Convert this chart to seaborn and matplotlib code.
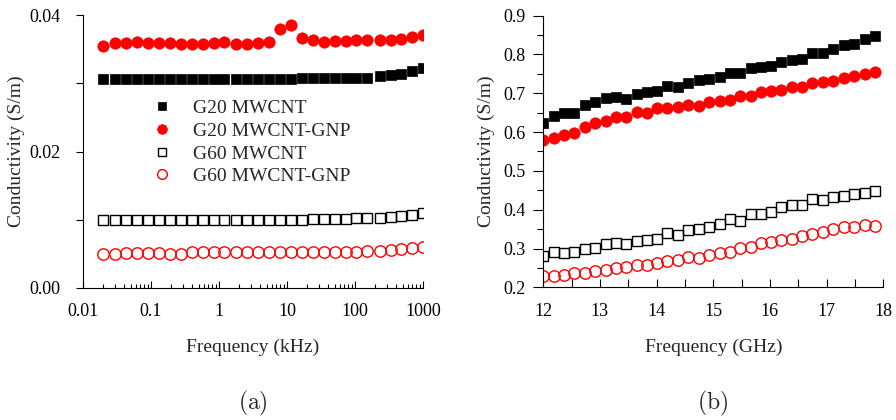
import numpy as np
import pandas as pd
import matplotlib
matplotlib.use("Agg")
import matplotlib.pyplot as plt
from matplotlib.ticker import FixedLocator, LogLocator, NullFormatter, MultipleLocator, FixedFormatter
from matplotlib.lines import Line2D
import seaborn as sns

# ---------------- data ----------------
# (a) low-frequency conductivity, frequency in kHz
freq_khz = [0.02, 0.03, 0.043, 0.062, 0.089, 0.13, 0.19, 0.28, 0.40, 0.59,
            0.84, 1.2, 1.77, 2.6, 3.7, 5.5, 7.8, 11.3, 16.8, 24,
            35, 50, 74, 104, 149, 237, 340, 480, 680, 1000]
g20_mwcnt_a = [0.03055, 0.03055, 0.03055, 0.03055, 0.03055, 0.03055, 0.03055, 0.03055, 0.03055, 0.03055,
               0.0306, 0.0306, 0.0306, 0.0306, 0.0306, 0.0306, 0.0306, 0.0306, 0.0307, 0.0307,
               0.0307, 0.0307, 0.0308, 0.0308, 0.0308, 0.0311, 0.0312, 0.0314, 0.0318, 0.0323]
g20_gnp_a = [0.0355, 0.03585, 0.03585, 0.0360, 0.0359, 0.03585, 0.0359, 0.03575, 0.0358, 0.0358,
             0.03585, 0.0360, 0.03575, 0.0357, 0.0359, 0.0360, 0.0379, 0.0386, 0.0367, 0.0364,
             0.0361, 0.0362, 0.0362, 0.0363, 0.0363, 0.0364, 0.0364, 0.0365, 0.0368, 0.0371]
g60_mwcnt_a = [0.0099, 0.0099, 0.0099, 0.0099, 0.0099, 0.0099, 0.0100, 0.0100, 0.0100, 0.0100,
               0.0100, 0.0100, 0.0100, 0.0100, 0.0100, 0.0100, 0.0100, 0.0100, 0.0100, 0.0101,
               0.0101, 0.0101, 0.0101, 0.0102, 0.0102, 0.0103, 0.0104, 0.0105, 0.0107, 0.0110]
g60_gnp_a = [0.00498, 0.00493, 0.00508, 0.00508, 0.00508, 0.00518, 0.00503, 0.00493, 0.00523, 0.00527,
             0.00527, 0.00527, 0.00527, 0.00527, 0.00527, 0.00527, 0.00527, 0.00527, 0.00527, 0.00532,
             0.00532, 0.00532, 0.00532, 0.00532, 0.00537, 0.00547, 0.00557, 0.00567, 0.00581, 0.00606]

# (b) microwave conductivity, frequency in GHz
freq_ghz = [12.00, 12.18, 12.37, 12.55, 12.73, 12.91, 13.10, 13.28, 13.46, 13.65,
            13.83, 14.01, 14.19, 14.38, 14.56, 14.74, 14.92, 15.11, 15.29, 15.47,
            15.66, 15.84, 16.02, 16.20, 16.39, 16.57, 16.75, 16.93, 17.12, 17.30,
            17.48, 17.67, 17.85]
g20_mwcnt_b = [0.624, 0.641, 0.648, 0.648, 0.671, 0.677, 0.687, 0.690, 0.685, 0.697,
               0.703, 0.705, 0.719, 0.717, 0.727, 0.735, 0.737, 0.743, 0.753, 0.752,
               0.764, 0.767, 0.770, 0.781, 0.786, 0.788, 0.803, 0.805, 0.813, 0.824,
               0.826, 0.841, 0.848]
g20_gnp_b = [0.580, 0.586, 0.592, 0.598, 0.612, 0.623, 0.629, 0.640, 0.640, 0.653,
             0.650, 0.661, 0.663, 0.665, 0.671, 0.668, 0.678, 0.680, 0.684, 0.693,
             0.694, 0.704, 0.707, 0.708, 0.715, 0.715, 0.726, 0.729, 0.732, 0.740,
             0.744, 0.751, 0.755]
g60_mwcnt_b = [0.281, 0.290, 0.289, 0.292, 0.298, 0.302, 0.312, 0.313, 0.312, 0.319,
               0.322, 0.325, 0.339, 0.335, 0.348, 0.351, 0.356, 0.363, 0.375, 0.372,
               0.389, 0.389, 0.395, 0.406, 0.412, 0.412, 0.427, 0.425, 0.432, 0.436,
               0.441, 0.442, 0.448]
g60_gnp_b = [0.229, 0.230, 0.232, 0.236, 0.238, 0.243, 0.245, 0.251, 0.252, 0.257,
             0.258, 0.262, 0.268, 0.270, 0.277, 0.276, 0.282, 0.288, 0.291, 0.301,
             0.303, 0.315, 0.318, 0.322, 0.325, 0.331, 0.337, 0.343, 0.349, 0.355,
             0.356, 0.360, 0.358]

series_names = ["G20 MWCNT", "G20 MWCNT-GNP", "G60 MWCNT", "G60 MWCNT-GNP"]
khz_ticks = [0.01, 0.1, 1, 10, 100, 1000]
khz_ticklabels = ["0.01", "0.1", "1", "10", "100", "1000"]

# marker, colour, filled
styles = {
    "G20 MWCNT": ("s", "black", True),
    "G20 MWCNT-GNP": ("o", "#ff0000", True),
    "G60 MWCNT": ("s", "black", False),
    "G60 MWCNT-GNP": ("o", "#ff0000", False),
}
marker_size = {"s": 7.0, "o": 8.2}

df_a = pd.concat([
    pd.DataFrame({"freq": freq_khz, "sigma": vals, "sample": name})
    for name, vals in zip(series_names, [g20_mwcnt_a, g20_gnp_a, g60_mwcnt_a, g60_gnp_a])
])
df_b = pd.concat([
    pd.DataFrame({"freq": freq_ghz, "sigma": vals, "sample": name})
    for name, vals in zip(series_names, [g20_mwcnt_b, g20_gnp_b, g60_mwcnt_b, g60_gnp_b])
])

# ---------------- style ----------------
sns.set_style("ticks")
plt.rcParams["font.family"] = ["Liberation Serif", "DejaVu Serif"]
plt.rcParams["mathtext.fontset"] = "cm"
plt.rcParams["axes.linewidth"] = 0.8
plt.rcParams["axes.edgecolor"] = "black"

fig = plt.figure(figsize=(8.96, 4.2), dpi=100)
ax1 = fig.add_axes([83 / 896, 132 / 420, 340 / 896, 273 / 420])
ax2 = fig.add_axes([543.3 / 896, 132.7 / 420, 340 / 896, 271.6 / 420])


def draw(ax, df):
    for name in series_names:
        m, c, filled = styles[name]
        sub = df[df["sample"] == name]
        sns.lineplot(data=sub, x="freq", y="sigma", ax=ax, marker=m, linestyle="none",
                     color=c, markersize=marker_size[m],
                     markerfacecolor=c if filled else "none",
                     markeredgecolor=c, markeredgewidth=1.0 if not filled else 0.5,
                     legend=False)


draw(ax1, df_a)
draw(ax2, df_b)

for ax in (ax1, ax2):
    sns.despine(ax=ax)
    ax.set_ylabel("Conductivity (S/m)", fontsize=14)
    ax.tick_params(axis="both", which="both", labelsize=13, width=0.8, color="black",
                   labelcolor="black")

# ---- panel (a)
ax1.set_xscale("log")
ax1.set_xlim(0.01, 1000)
ax1.set_ylim(0, 0.04)
ax1.xaxis.set_major_locator(FixedLocator(khz_ticks))
ax1.xaxis.set_major_formatter(FixedFormatter(khz_ticklabels))
ax1.xaxis.set_minor_locator(LogLocator(base=10, subs=np.arange(2, 10)))
ax1.xaxis.set_minor_formatter(NullFormatter())
ax1.yaxis.set_major_locator(MultipleLocator(0.02))
ax1.yaxis.set_minor_locator(MultipleLocator(0.01))
ax1.yaxis.set_major_formatter(lambda v, p: f"{v:.2f}")
ax1.tick_params(axis="x", which="major", direction="in", length=5, pad=11)
ax1.tick_params(axis="x", which="minor", direction="in", length=3)
ax1.tick_params(axis="y", which="both", direction="out", length=5, pad=11)
ax1.set_xlabel("Frequency (kHz)", fontsize=14)
ax1.xaxis.set_label_coords(0.5, -0.185)
ax1.yaxis.set_label_coords(-0.172, 0.5)

handles = []
for name in series_names:
    m, c, filled = styles[name]
    handles.append(Line2D([], [], marker=m, linestyle="none", color=c,
                          markersize=marker_size[m] * 0.85,
                          markerfacecolor=c if filled else "none",
                          markeredgecolor=c, markeredgewidth=1.0 if not filled else 0.5))
ax1.legend(handles, series_names, loc="upper left", bbox_to_anchor=(0.205, 0.69),
           frameon=False, fontsize=14, handlelength=1.0, handletextpad=1.05,
           labelspacing=0.26, borderpad=0, borderaxespad=0)

# ---- panel (b)
ax2.set_xlim(12, 18)
ax2.set_ylim(0.2, 0.9)
ax2.xaxis.set_major_locator(MultipleLocator(1))
ax2.xaxis.set_minor_locator(MultipleLocator(0.5))
ax2.yaxis.set_major_locator(MultipleLocator(0.1))
ax2.yaxis.set_minor_locator(MultipleLocator(0.05))
ax2.xaxis.set_major_formatter(lambda v, p: f"{v:.0f}")
ax2.yaxis.set_major_formatter(lambda v, p: f"{v:.1f}")
ax2.tick_params(axis="x", which="both", direction="in", length=6, pad=11)
ax2.tick_params(axis="y", which="major", direction="out", length=7, pad=6)
ax2.tick_params(axis="y", which="minor", direction="out", length=4)
ax2.set_xlabel("Frequency (GHz)", fontsize=14)
ax2.xaxis.set_label_coords(0.5, -0.19)
ax2.yaxis.set_label_coords(-0.142, 0.5)

fig.text(253 / 896, 1 - 403 / 420, r"$\mathrm{(a)}$", ha="center", va="center", fontsize=17)
fig.text(713 / 896, 1 - 403 / 420, r"$\mathrm{(b)}$", ha="center", va="center", fontsize=17)

fig.savefig("out.png", dpi=100, facecolor="white")
